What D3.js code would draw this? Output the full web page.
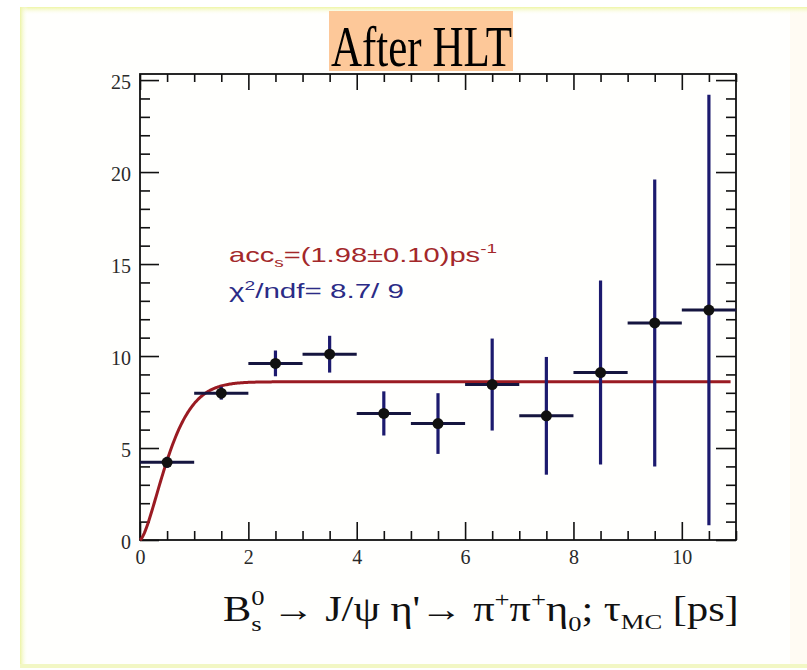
<!DOCTYPE html>
<html>
<head>
<meta charset="utf-8">
<script src="https://cdn.jsdelivr.net/npm/d3@7"></script>
<style>
  html, body { margin: 0; padding: 0; background: #ffffff; }
  svg { display: block; }
</style>
</head>
<body>
<svg id="chart" width="807" height="670"></svg>
<script>
// Acceptance vs. proper decay time, after HLT
const binCenters = [0.5, 1.5, 2.5, 3.5, 4.5, 5.5, 6.5, 7.5, 8.5, 9.5, 10.5];
const binHalfWidth = [0.5, 0.5, 0.5, 0.5, 0.5, 0.5, 0.5, 0.5, 0.5, 0.5, 0.5];
const acceptance = [4.22, 7.98, 9.6, 10.1, 6.88, 6.33, 8.45, 6.75, 9.1, 11.8, 12.5];
const acceptanceErr = [0.3, 0.35, 0.7, 1.0, 1.2, 1.65, 2.5, 3.2, 5.0, 7.8, 11.7];
const xTickLabels = ["0", "2", "4", "6", "8", "10"];
const yTickLabels = ["0", "5", "10", "15", "20", "25"];

// Fit result
const fitPlateau = 8.6;
const fitAcc = 1.98;
const fitAccErr = 0.10;
const fitChi2 = 8.7;
const fitNdf = 9;

const svg = d3.select("#chart");

// ---- slide background with soft yellow edges ----
const defs = svg.append("defs");
const gTop = defs.append("linearGradient").attr("id", "edgeTop").attr("x1", 0).attr("y1", 0).attr("x2", 0).attr("y2", 1);
gTop.append("stop").attr("offset", 0).attr("stop-color", "#eef5a6");
gTop.append("stop").attr("offset", 1).attr("stop-color", "#ffffff").attr("stop-opacity", 0);
const gLeft = defs.append("linearGradient").attr("id", "edgeLeft").attr("x1", 0).attr("y1", 0).attr("x2", 1).attr("y2", 0);
gLeft.append("stop").attr("offset", 0).attr("stop-color", "#ecf3a4");
gLeft.append("stop").attr("offset", 1).attr("stop-color", "#ffffff").attr("stop-opacity", 0);

svg.append("rect").attr("x", 20).attr("y", 7).attr("width", 787).attr("height", 661).attr("fill", "#fffffd");
svg.append("rect").attr("x", 790).attr("y", 9).attr("width", 17).attr("height", 657).attr("fill", "#fffbf3");
svg.append("rect").attr("x", 20).attr("y", 7).attr("width", 787).attr("height", 8).attr("fill", "url(#edgeTop)");
svg.append("rect").attr("x", 20).attr("y", 7).attr("width", 8).attr("height", 661).attr("fill", "url(#edgeLeft)");
svg.append("rect").attr("x", 20).attr("y", 664).attr("width", 787).attr("height", 4).attr("fill", "#f2f7c4");

// ---- title ----
svg.append("rect").attr("x", 329).attr("y", 11).attr("width", 184).attr("height", 60).attr("fill", "#fdc899");
svg.append("text")
  .attr("x", 331).attr("y", 66)
  .attr("font-family", "'Liberation Serif', 'Times New Roman', serif")
  .attr("font-size", 56)
  .attr("textLength", 181).attr("lengthAdjust", "spacingAndGlyphs")
  .attr("fill", "#000")
  .text("After HLT");

// ---- scales ----
const x = d3.scaleLinear().domain([0, 11]).range([140, 736]);
const y = d3.scaleLinear().domain([0, 25.33]).range([540, 74]);

const frameCol = "#111";
const serif = "'Liberation Serif', 'Times New Roman', serif";

// axes: major ticks carry labels, minor ticks without
const xMajor = xTickLabels.map(Number);
const yMajor = yTickLabels.map(Number);
const xMinor = d3.range(0, 11.001, 0.5).filter(v => !xMajor.includes(v));
const yMinor = d3.range(0, 25.001, 1).filter(v => !yMajor.includes(v));

function styleAxis(g) {
  g.select(".domain").remove();
  g.selectAll("line").attr("stroke", frameCol).attr("stroke-width", 1.6);
  g.selectAll("text").attr("font-family", serif).attr("font-size", 20).attr("fill", "#2a2a2a");
}

// bottom
const gxB = svg.append("g").attr("transform", `translate(0,${y(0)})`)
  .call(d3.axisBottom(x).tickValues(xMajor).tickSize(-18).tickPadding(5).tickFormat((d, i) => xTickLabels[i]));
styleAxis(gxB);
gxB.selectAll("text").attr("dy", "0.95em");
svg.append("g").attr("transform", `translate(0,${y(0)})`)
  .call(d3.axisBottom(x).tickValues(xMinor).tickSize(-9).tickFormat(""))
  .call(styleAxis);
// top
svg.append("g").attr("transform", `translate(0,${y.range()[1]})`)
  .call(d3.axisTop(x).tickValues(xMajor).tickSize(-16).tickFormat(""))
  .call(styleAxis);
svg.append("g").attr("transform", `translate(0,${y.range()[1]})`)
  .call(d3.axisTop(x).tickValues(xMinor).tickSize(-8).tickFormat(""))
  .call(styleAxis);
// left
const gyL = svg.append("g").attr("transform", `translate(${x(0)},0)`)
  .call(d3.axisLeft(y).tickValues(yMajor).tickSize(-19).tickPadding(9).tickFormat((d, i) => yTickLabels[i]));
styleAxis(gyL);
gyL.selectAll("text").attr("dy", "0.42em");
svg.append("g").attr("transform", `translate(${x(0)},0)`)
  .call(d3.axisLeft(y).tickValues(yMinor).tickSize(-10).tickFormat(""))
  .call(styleAxis);
// right
svg.append("g").attr("transform", `translate(${x.range()[1]},0)`)
  .call(d3.axisRight(y).tickValues(yMajor).tickSize(-20).tickFormat(""))
  .call(styleAxis);
svg.append("g").attr("transform", `translate(${x.range()[1]},0)`)
  .call(d3.axisRight(y).tickValues(yMinor).tickSize(-10).tickFormat(""))
  .call(styleAxis);

// frame
svg.append("rect")
  .attr("x", x(0)).attr("y", y.range()[1])
  .attr("width", x.range()[1] - x(0)).attr("height", y(0) - y.range()[1])
  .attr("fill", "none").attr("stroke", frameCol).attr("stroke-width", 1.8);

// ---- fit curve ----
const fitFn = t => fitPlateau * (1 - Math.exp(-fitAcc * Math.pow(t, 1.5)));
const fitPts = d3.range(0, 10.9001, 0.02).map(t => [t, fitFn(t)]);
svg.append("path")
  .datum(fitPts)
  .attr("d", d3.line().x(d => x(d[0])).y(d => y(d[1])))
  .attr("fill", "none").attr("stroke", "#9a1b22").attr("stroke-width", 3);

// ---- data points with error bars ----
const pts = binCenters.map((c, i) => ({ c, hw: binHalfWidth[i], v: acceptance[i], e: acceptanceErr[i] }));
const gPts = svg.append("g");
gPts.selectAll("line.ex").data(pts).join("line")
  .attr("class", "ex")
  .attr("x1", d => x(d.c - d.hw)).attr("x2", d => x(d.c + d.hw))
  .attr("y1", d => y(d.v)).attr("y2", d => y(d.v))
  .attr("stroke", "#15153f").attr("stroke-width", 3);
gPts.selectAll("line.ey").data(pts).join("line")
  .attr("class", "ey")
  .attr("x1", d => x(d.c)).attr("x2", d => x(d.c))
  .attr("y1", d => y(d.v - d.e)).attr("y2", d => y(d.v + d.e))
  .attr("stroke", "#1c1a6e").attr("stroke-width", 3.2);
gPts.selectAll("circle").data(pts).join("circle")
  .attr("cx", d => x(d.c)).attr("cy", d => y(d.v)).attr("r", 5.5)
  .attr("fill", "#111");

// helper: stretch a text element horizontally so it spans a given width
function fitWidth(textSel, left, baseline, width) {
  const w = textSel.node().getBBox().width;
  textSel.attr("transform", `translate(${left},${baseline}) scale(${width / w},1)`);
}

// ---- fit result box ----
const sans = "'Liberation Sans', Arial, sans-serif";
const l1 = svg.append("text").attr("font-family", sans).attr("font-size", 20).attr("fill", "#a3282a");
l1.append("tspan").text("acc");
l1.append("tspan").attr("font-size", 13).attr("dy", 5).text("s");
l1.append("tspan").attr("dy", -5).text(`=(${fitAcc.toFixed(2)}±${fitAccErr.toFixed(2)})ps`);
l1.append("tspan").attr("font-size", 13).attr("dy", -9).text("-1");
fitWidth(l1, 229, 262, 268);

const l2 = svg.append("text").attr("font-family", sans).attr("font-size", 20).attr("fill", "#2b2b86");
l2.append("tspan").text("χ");
l2.append("tspan").attr("font-size", 13).attr("dy", -8).text("2");
l2.append("tspan").attr("dy", 8).text(`/ndf= ${fitChi2.toFixed(1)}/ ${fitNdf}`);
fitWidth(l2, 229, 298, 175);

// ---- x-axis title ----
const xt = svg.append("text").attr("font-family", serif).attr("font-size", 35).attr("fill", "#111");
xt.append("tspan").text("B");
xt.append("tspan").attr("font-size", 22).attr("dy", -16).text("0");
xt.append("tspan").attr("font-size", 22).attr("dx", -11).attr("dy", 26).text("s");
xt.append("tspan").attr("dy", -10).text(" → J/ψ η'→ π");
xt.append("tspan").attr("font-size", 22).attr("dy", -14).text("+");
xt.append("tspan").attr("dy", 14).text("π");
xt.append("tspan").attr("font-size", 22).attr("dy", -14).text("+");
xt.append("tspan").attr("dy", 14).text("η");
xt.append("tspan").attr("font-size", 22).attr("dy", 10).text("0");
xt.append("tspan").attr("dy", -10).text("; τ");
xt.append("tspan").attr("font-size", 22).attr("dy", 8).text("MC");
xt.append("tspan").attr("dy", -8).text(" [ps]");
fitWidth(xt, 223, 621, 516);
</script>
</body>
</html>
